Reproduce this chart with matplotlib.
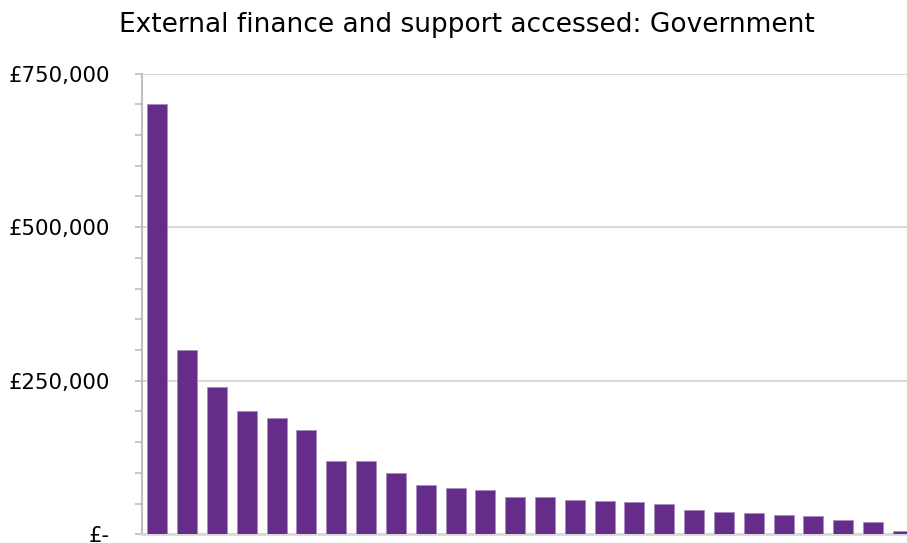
import matplotlib
matplotlib.use('Agg')
import matplotlib.pyplot as plt
from matplotlib.ticker import FuncFormatter, MultipleLocator

# Government support accessed, largest first (GBP)
orgs = [f"Org {i + 1}" for i in range(26)]
amounts = [700000, 300000, 240000, 200000, 190000, 170000, 120000, 120000,
           100000, 80000, 75000, 72000, 60000, 60000, 56000, 54000, 52000,
           49000, 39000, 37000, 34000, 32000, 29000, 24000, 20000, 5000]

bar_color = '#652d89'
grid_color = '#d9d9d9'
axis_color = '#bfbfbf'

plt.rcParams['font.family'] = ['DejaVu Sans']

fig = plt.figure(figsize=(9.07, 5.43), dpi=100)
ax = fig.add_axes([142 / 907, 1 - 534.3 / 543, 1 - 142 / 907 + 0.002, (534.3 - 73.5) / 543])

x = range(len(amounts))
ax.bar(x, amounts, width=0.67, color=bar_color, edgecolor='#a98cc0', linewidth=0.6, zorder=3)

ax.set_ylim(0, 750000)
ax.set_xlim(-0.514, 25.2)
ax.yaxis.set_major_locator(MultipleLocator(250000))
ax.yaxis.set_minor_locator(MultipleLocator(50000))


def gbp(v, pos):
    if v == 0:
        return '£-'
    return f'£{v:,.0f}'


ax.yaxis.set_major_formatter(FuncFormatter(gbp))
ax.grid(axis='y', which='major', color=grid_color, linewidth=1.5, zorder=0)
ax.set_xticks([])

for side in ['top', 'right']:
    ax.spines[side].set_visible(False)
ax.spines['left'].set_color(axis_color)
ax.spines['left'].set_linewidth(1.5)
ax.spines['bottom'].set_color(grid_color)
ax.spines['bottom'].set_linewidth(2)

ax.tick_params(axis='y', which='both', length=5, width=1.2, color=axis_color,
               labelsize=15.3, pad=18)
for lbl in ax.get_yticklabels():
    lbl.set_horizontalalignment('right')

fig.text(467 / 907, 1 - 25 / 543, 'External finance and support accessed: Government',
         ha='center', va='center', fontsize=19)

fig.savefig('out.png', dpi=100)
